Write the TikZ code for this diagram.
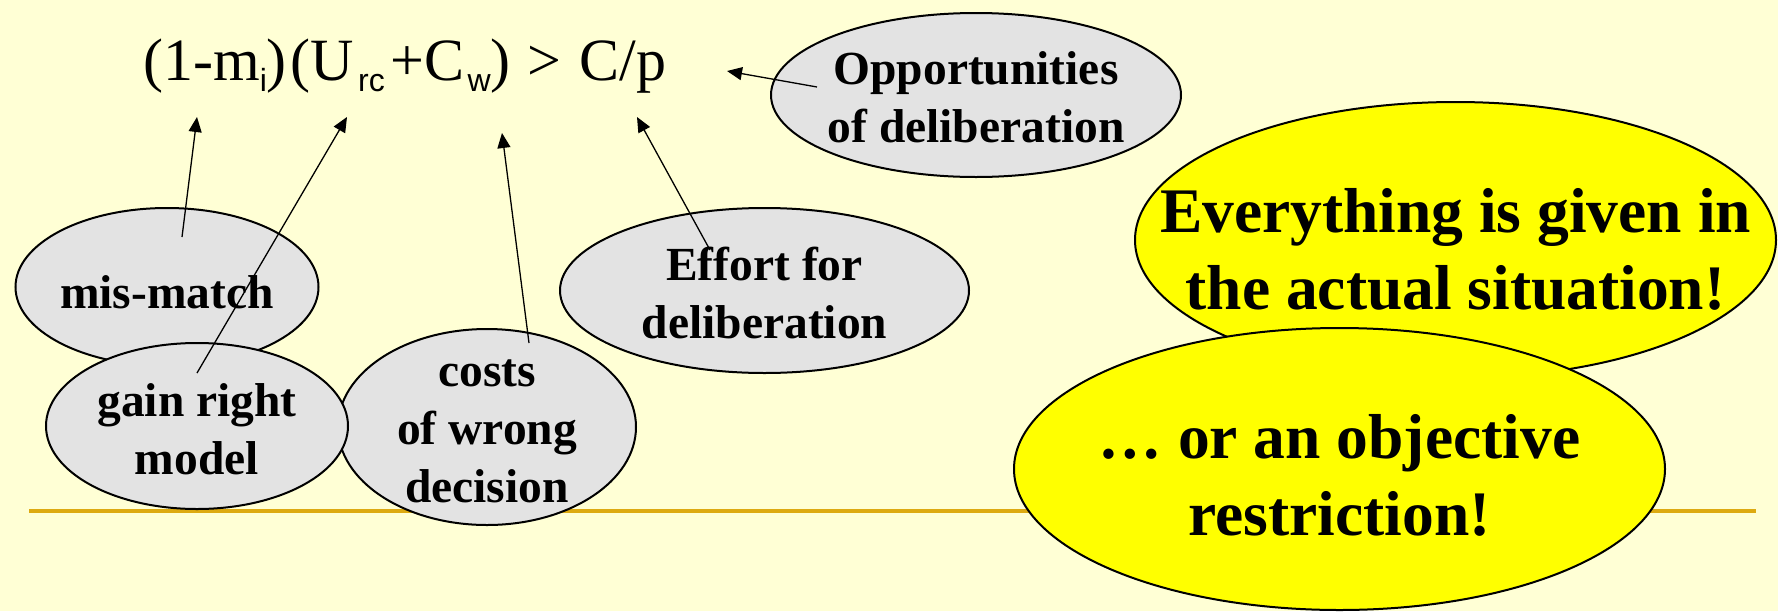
\documentclass[tikz,border=0pt]{standalone}
\usepackage{fontspec}
\setmainfont{Liberation Serif}
\newfontfamily\idxfont{Liberation Sans}
\usetikzlibrary{arrows.meta, shapes.geometric}
\definecolor{paper}{RGB}{255, 255, 213}
\definecolor{bubblegray}{RGB}{227, 227, 227}
\definecolor{rulegold}{RGB}{221, 170, 17}
\definecolor{hotyellow}{RGB}{255, 255, 0}
\newcommand{\lowidx}[1]{\raisebox{-11pt}{\fontsize{32}{32}\idxfont #1}}

\begin{document}
\begin{tikzpicture}[x=1pt, y=-1pt, >={Triangle[length=15pt, width=13pt]},
    bubble/.style={ellipse, draw=black, line width=2pt, inner sep=0pt},
    graybubble/.style={bubble, fill=bubblegray},
    hotbubble/.style={bubble, fill=hotyellow},
    bubbletext/.style={align=center, inner sep=0pt, font=\fontsize{47.5}{58}\selectfont\bfseries},
    bigtext/.style={align=center, inner sep=0pt, font=\fontsize{63.5}{77}\selectfont\bfseries},
    ptr/.style={->, line width=1.3pt}]
    % Background
    \fill[paper] (0,0) rectangle (1778,611);
    \useasboundingbox (0,0) rectangle (1778,611);
    \draw[rulegold, line width=4pt] (29,511) -- (1756,511);

    % Inequality
    \node[anchor=base west, inner sep=0pt, font=\fontsize{60}{60}\selectfont] (ineq) at (143,80)
        {(1-m\lowidx{i})\hspace{4pt}(U\hspace{4pt}\lowidx{rc}\hspace{6pt}+C\hspace{3pt}\lowidx{w})\hspace{17pt}>\hspace{18pt}C/p};

    % Grey bubbles
    \node[graybubble, minimum width=410, minimum height=164] (opp) at (976,95) {};
    \node[bubbletext, yshift=-2.5pt] (opptext) at (opp) {Opportunities\\of deliberation};
    \node[graybubble, minimum width=409, minimum height=165] (effort) at (764.5,290.5) {};
    \node[bubbletext, yshift=-2.5pt] (efforttext) at (effort) {Effort for\\deliberation};
    \node[graybubble, minimum width=303, minimum height=158] (mismatch) at (167,287) {};
    \node[bubbletext, yshift=-5pt] (mismatchtext) at (mismatch) {mis-match};
    \node[graybubble, minimum width=298, minimum height=196] (costs) at (487,427) {};
    \node[bubbletext, yshift=-4pt] (coststext) at (costs) {costs\\of wrong\\decision};
    \node[graybubble, minimum width=302, minimum height=166] (gain) at (197,426) {};
    \node[bubbletext, yshift=-3.5pt] (gaintext) at (gain) {gain right\\model};

    % Yellow bubbles
    \node[hotbubble, minimum width=641, minimum height=276] (given) at (1455.5,240) {};
    \node[bigtext, yshift=-9pt] (giventext) at (given) {Everything is given in\\the actual situation!};
    \node[hotbubble, minimum width=651, minimum height=282] (restr) at (1339.5,469) {};
    \node[bigtext, yshift=-6.5pt] (restrtext) at (restr) {\dots\ or an objective\\restriction!};

    % Pointers
    \coordinate (tipm) at (197,117);
    \coordinate (tipu) at (347,117);
    \coordinate (tipc) at (502,133);
    \coordinate (tipp) at (637,117);
    \coordinate (tipo) at (727,71);
    \draw[ptr] ([shift={(15,-50)}]mismatch.center) -- (tipm);
    \draw[ptr] ([shift={(0,-53)}]gain.center) -- (tipu);
    \draw[ptr] ([shift={(42,-84)}]costs.center) -- (tipc);
    \draw[ptr] ([shift={(-54.5,-40.5)}]effort.center) -- (tipp);
    \draw[ptr] ([shift={(-159,-8)}]opp.center) -- (tipo);
\end{tikzpicture}
\end{document}
